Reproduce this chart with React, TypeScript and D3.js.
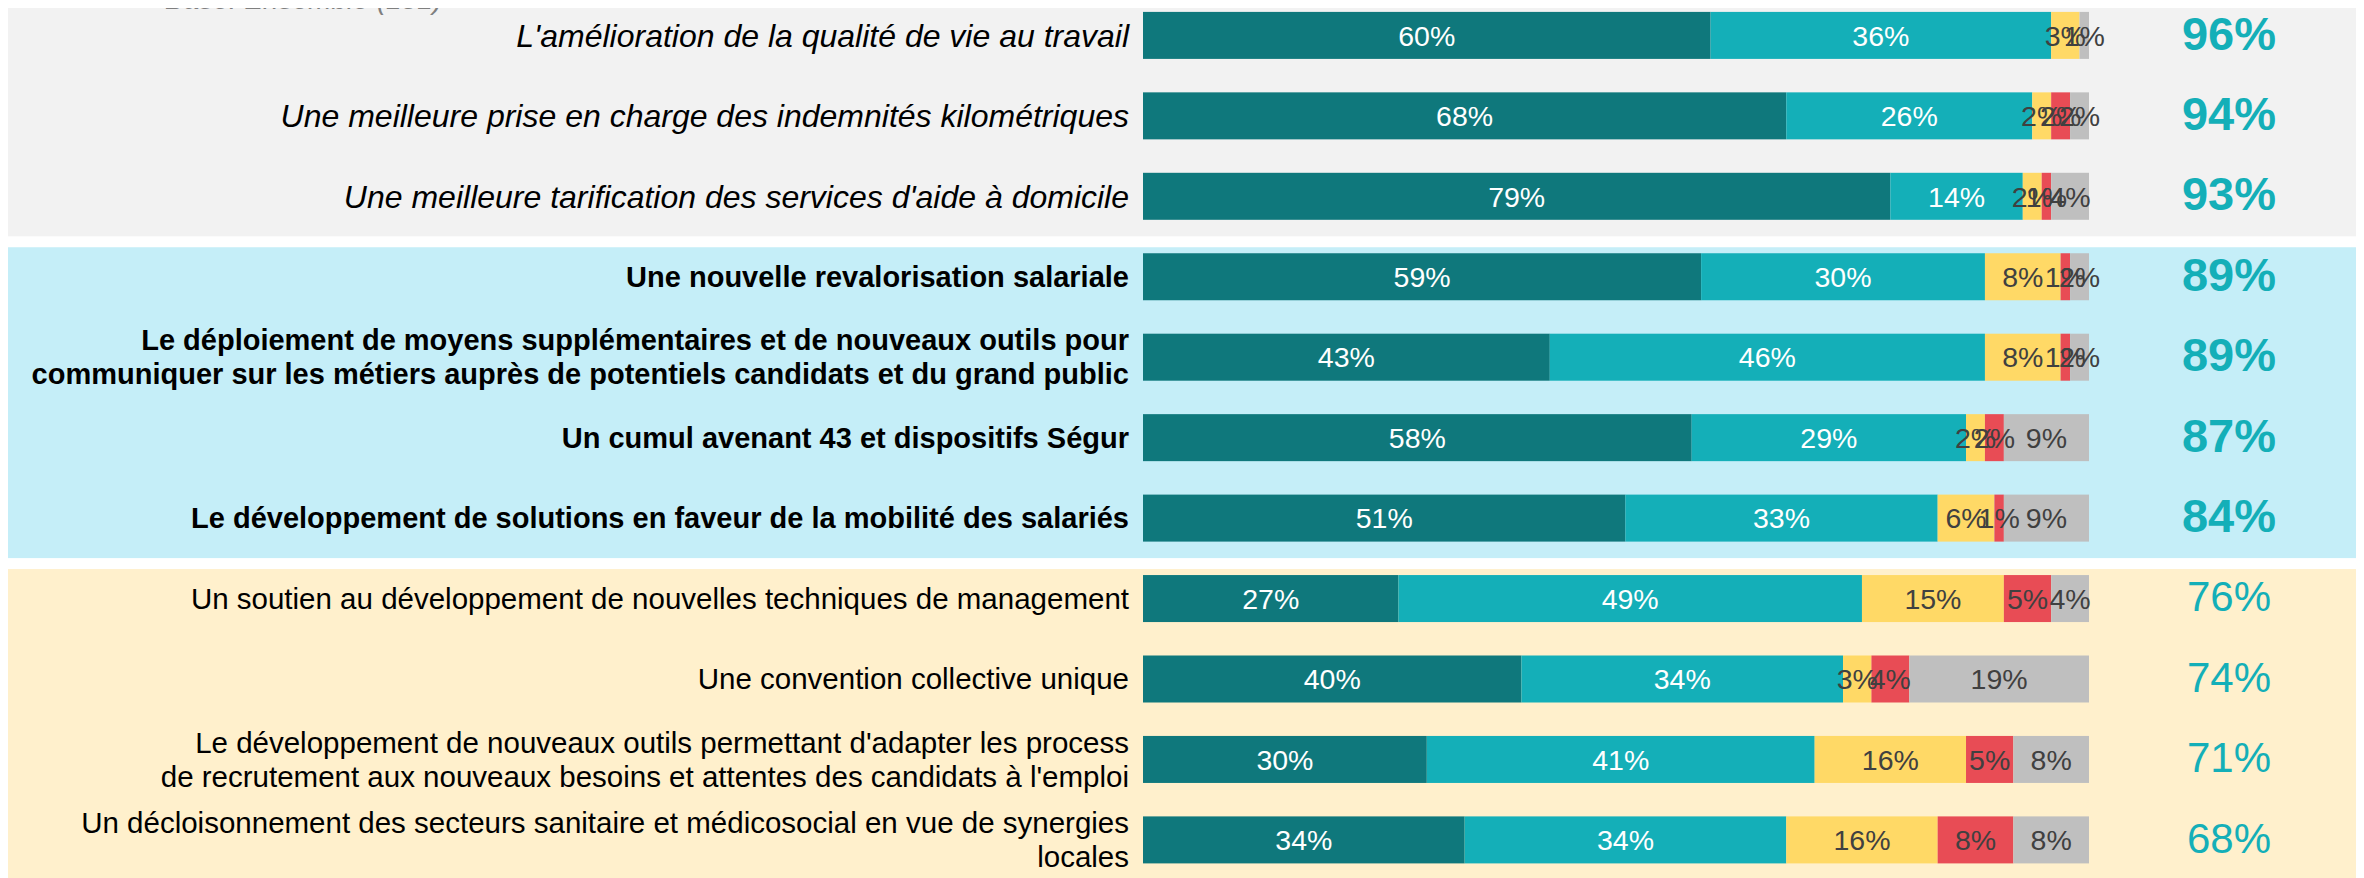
import React from "react";
import * as d3 from "d3";

// Libellés des items (\n = retour à la ligne)
const categories = [
  "L'amélioration de la qualité de vie au travail",
  "Une meilleure prise en charge des indemnités kilométriques",
  "Une meilleure tarification des services d'aide à domicile",
  "Une nouvelle revalorisation salariale",
  "Le déploiement de moyens supplémentaires et de nouveaux outils pour\ncommuniquer sur les métiers auprès de potentiels candidats et du grand public",
  "Un cumul avenant 43 et dispositifs Ségur",
  "Le développement de solutions en faveur de la mobilité des salariés",
  "Un soutien au développement de nouvelles techniques de management",
  "Une convention collective unique",
  "Le développement de nouveaux outils permettant d'adapter les process\nde recrutement aux nouveaux besoins et attentes des candidats à l'emploi",
  "Un décloisonnement des secteurs sanitaire et médicosocial en vue de synergies\nlocales",
];

const tresImportant = [60, 68, 79, 59, 43, 58, 51, 27, 40, 30, 34];
const assezImportant = [36, 26, 14, 30, 46, 29, 33, 49, 34, 41, 34];
const peuImportant = [3, 2, 2, 8, 8, 2, 6, 15, 3, 16, 16];
const pasImportant = [0, 2, 1, 1, 1, 2, 1, 5, 4, 5, 8];
const nsp = [1, 2, 4, 2, 2, 9, 9, 4, 19, 8, 8];
const totals = [96, 94, 93, 89, 89, 87, 84, 76, 74, 71, 68];

// groupe de chaque item : 0 = haut (gris), 1 = milieu (bleu), 2 = bas (jaune)
const groups = [0, 0, 0, 1, 1, 1, 1, 2, 2, 2, 2];

const baseText = "Base: Ensemble (151)";

const seriesKeys = ["tres", "assez", "peu", "pas", "nsp"];
const seriesColors = ["#0F787C", "#14AFB8", "#FFD966", "#E84C55", "#BFBFBF"];
const labelColors = ["#FFFFFF", "#FFFFFF", "#404040", "#404040", "#404040"];

const groupBg = ["#F2F2F2", "#C5EEF8", "#FFF0CC"];
const groupFont = [
  { style: "italic", weight: "normal", size: 32 },
  { style: "normal", weight: "bold", size: 29 },
  { style: "normal", weight: "normal", size: 29.5 },
];

const W = 2348;
const H = 870;
const TOP = 8; // le svg remonte sur la marge du body pour laisser voir le texte "Base"
const FONT = "'Liberation Sans', Arial, sans-serif";

export default function App() {
  const rows = categories.map((c, i) => ({
    cat: c,
    tres: tresImportant[i],
    assez: assezImportant[i],
    peu: peuImportant[i],
    pas: pasImportant[i],
    nsp: nsp[i],
  }));

  const stacked = d3.stack<any>().keys(seriesKeys)(rows);

  const x = d3.scaleLinear().domain([0, 100]).range([1135, 2081]);
  const y = d3.scalePoint<string>().domain(categories).range([27.4, 831.9]);
  const barH = 47;
  const labelX = x(0) - 14;
  const totalX = 2221;

  // fonds des groupes
  const groupIds = Array.from(new Set(groups));
  const bands = groupIds.map((g) => {
    const idx = groups.map((gg, i) => (gg === g ? i : -1)).filter((i) => i >= 0);
    const top = (y(categories[idx[0]]) as number) - 29.5;
    const isLast = g === groupIds[groupIds.length - 1];
    const bottom = isLast ? H : (y(categories[idx[idx.length - 1]]) as number) + 40;
    return { g, top, bottom };
  });

  return (
    <svg
      width={W}
      height={H + TOP}
      style={{ display: "block", marginTop: -TOP, fontFamily: FONT }}
    >
      <g transform={`translate(0,${TOP})`}>
        {bands.map((b) => (
          <rect key={b.g} x={0} y={b.top} width={W} height={b.bottom - b.top} fill={groupBg[b.g]} />
        ))}

        <text x={157} y={0.5} fontSize={28} fontStyle="italic" fill="#7F7F7F">
          {baseText}
        </text>

        {/* libellés */}
        {categories.map((c, i) => {
          const f = groupFont[groups[i]];
          const lines = c.split("\n");
          const lh = 34;
          const cy = y(c) as number;
          return (
            <text
              key={c}
              x={labelX}
              textAnchor="end"
              fontSize={f.size}
              fontStyle={f.style}
              fontWeight={f.weight}
              fill="#000"
            >
              {lines.map((l, j) => (
                <tspan key={j} x={labelX} y={cy - ((lines.length - 1) * lh) / 2 + j * lh} dy="0.35em">
                  {l}
                </tspan>
              ))}
            </text>
          );
        })}

        {/* barres empilées */}
        {stacked.map((s, si) => (
          <g key={s.key} fill={seriesColors[si]}>
            {s.map((d, i) =>
              d[1] - d[0] > 0 ? (
                <rect
                  key={i}
                  x={x(d[0])}
                  y={(y(categories[i]) as number) - barH / 2}
                  width={x(d[1]) - x(d[0])}
                  height={barH}
                />
              ) : null
            )}
          </g>
        ))}

        {/* valeurs dans les barres */}
        {stacked.map((s, si) => (
          <g key={"l" + s.key} fill={labelColors[si]} fontSize={28.5} textAnchor="middle">
            {s.map((d, i) => {
              const v = d[1] - d[0];
              if (v <= 0) return null;
              return (
                <text key={i} x={(x(d[0]) + x(d[1])) / 2} y={y(categories[i]) as number} dy="0.36em">
                  {v}%
                </text>
              );
            })}
          </g>
        ))}

        {/* total important */}
        {totals.map((t, i) => {
          const bold = groups[i] < 2;
          return (
            <text
              key={i}
              x={totalX}
              y={y(categories[i]) as number}
              dy="0.3em"
              textAnchor="middle"
              fontSize={bold ? 47 : 42}
              fontWeight={bold ? "bold" : "normal"}
              fill="#14AFB8"
            >
              {t}%
            </text>
          );
        })}
      </g>
    </svg>
  );
}
